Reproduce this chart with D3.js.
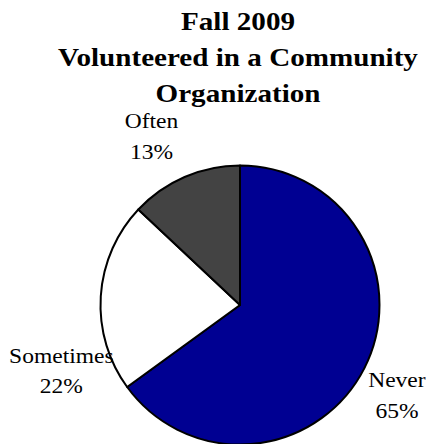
<!DOCTYPE html>
<html>
<head>
<meta charset="utf-8">
<script src="https://cdn.jsdelivr.net/npm/d3@7"></script>
<style>
  body { margin: 0; background: #fff; }
  text { font-family: "Liberation Serif", "Times New Roman", serif; fill: #000; }
</style>
</head>
<body>
<div id="chart"></div>
<script>
// chart data
const categories = ["Never", "Sometimes", "Often"];
const values = [65, 22, 13];
const titleLines = ["Fall 2009", "Volunteered in a Community", "Organization"];

const colors = { "Never": "#000092", "Sometimes": "#ffffff", "Often": "#434343" };

// label placement tweaks (Excel "best fit" moves them around a bit)
const labelNudge = { "Never": [1, 11], "Sometimes": [-4, 77], "Often": [-19, -8] };

const width = 426, height = 444;
const cx = 240, cy = 305, radius = 139.5;
const textStretch = 1.12; // source text is a bit wider than it is tall

const svg = d3.select("#chart").append("svg")
    .attr("width", width)
    .attr("height", height);

// title
svg.append("g").selectAll("text")
    .data(titleLines)
    .join("text")
      .attr("transform", (d, i) => "translate(238," + (30 + i * 36) + ") scale(" + textStretch + ",1)")
      .attr("text-anchor", "middle")
      .style("font-size", "26px")
      .style("font-weight", "bold")
      .text(d => d);

const data = categories.map((c, i) => ({ name: c, value: values[i] }));

const pie = d3.pie().sort(null).value(d => d.value);
const arc = d3.arc().innerRadius(0).outerRadius(radius);
const labelArc = d3.arc().innerRadius(175).outerRadius(175);

const g = svg.append("g").attr("transform", "translate(" + cx + "," + cy + ")");

const slices = pie(data);

g.selectAll("path")
    .data(slices)
    .join("path")
      .attr("d", arc)
      .attr("fill", d => colors[d.data.name])
      .attr("stroke", "#000")
      .attr("stroke-width", 2)
      .attr("stroke-linejoin", "round");

const labels = g.selectAll("text.lbl")
    .data(slices)
    .join("text")
      .attr("class", "lbl")
      .attr("transform", d => {
          const c = labelArc.centroid(d), n = labelNudge[d.data.name];
          return "translate(" + (c[0] + n[0]) + "," + (c[1] + n[1]) + ") scale(" + textStretch + ",1)";
      })
      .attr("text-anchor", "middle")
      .style("font-size", "21px");

labels.append("tspan")
    .attr("x", 0).attr("y", -8.5)
    .text(d => d.data.name);
labels.append("tspan")
    .attr("x", 0).attr("y", 22.5)
    .text(d => d3.format(".0f")(d.data.value) + "%");
</script>
</body>
</html>
